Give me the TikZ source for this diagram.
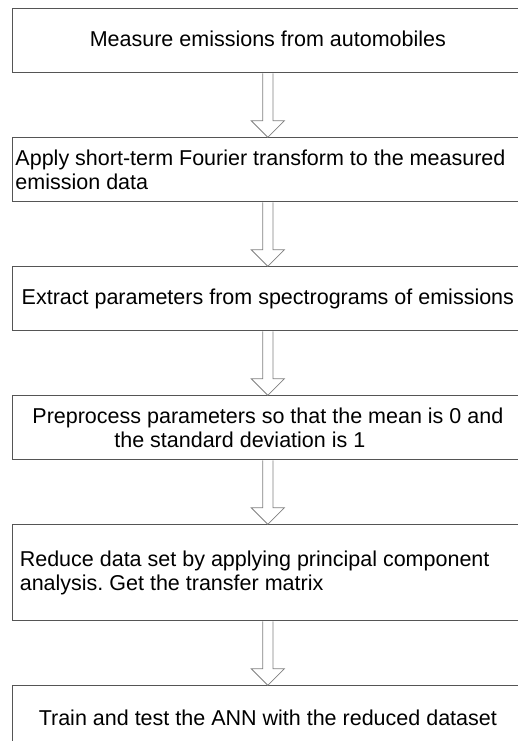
\documentclass[tikz,border=0pt]{standalone}
\usepackage{fontspec}
\setmainfont{Liberation Sans}
\usetikzlibrary{positioning,calc}

\definecolor{boxgray}{HTML}{555555}
\definecolor{arrowgray}{HTML}{808080}

\tikzset{
  stepbox/.style={draw=boxgray, line width=1pt, minimum width=511.3pt,
    minimum height=64pt, inner sep=0pt, align=center},
  leftbox/.style={stepbox, align=flush left},
  flowarrow/.style={draw=arrowgray, line width=0.8pt}
}

% hollow block arrow from one box to the next
\newcommand{\flowto}[2]{%
  \draw[flowarrow] ($(#1.south)+(-5.2pt,0)$) -- ($(#2.north)+(-5.2pt,16.5pt)$)
    -- ($(#2.north)+(-16.5pt,16.5pt)$) -- (#2.north)
    -- ($(#2.north)+(16.5pt,16.5pt)$) -- ($(#2.north)+(5.2pt,16.5pt)$)
    -- ($(#1.south)+(5.2pt,0)$);}

\begin{document}
\frenchspacing
\begin{tikzpicture}[x=1pt, y=1pt, node distance=64pt,
    font=\fontsize{21.5}{24}\selectfont]
        \useasboundingbox (0,0) rectangle (518,-741);

        % Steps
        \node[stepbox, anchor=north west] (measure) at (11.7,-8.3)
            {\raisebox{5pt}{Measure emissions from automobiles}};
        \node[leftbox, below=of measure, inner xsep=3.3pt, text width=504.7pt] (stft)
            {Apply short-term Fourier transform to the measured\\emission data};
        \node[stepbox, below=of stft] (extract)
            {Extract parameters from spectrograms of emissions};
        \node[stepbox, below=of extract] (preprocess)
            {Preprocess parameters so that the mean is 0 and\\the standard deviation is 1\hspace*{56pt}};
        \node[leftbox, below=of preprocess, inner xsep=7.6pt, text width=496.1pt,
            minimum height=96pt] (pca)
            {Reduce data set by applying principal component\\analysis. Get the transfer matrix};
        \node[stepbox, below=of pca] (ann)
            {Train and test the ANN with the reduced dataset};

        % Arrows
        \flowto{measure}{stft}
        \flowto{stft}{extract}
        \flowto{extract}{preprocess}
        \flowto{preprocess}{pca}
        \flowto{pca}{ann}
    \end{tikzpicture}
\end{document}
